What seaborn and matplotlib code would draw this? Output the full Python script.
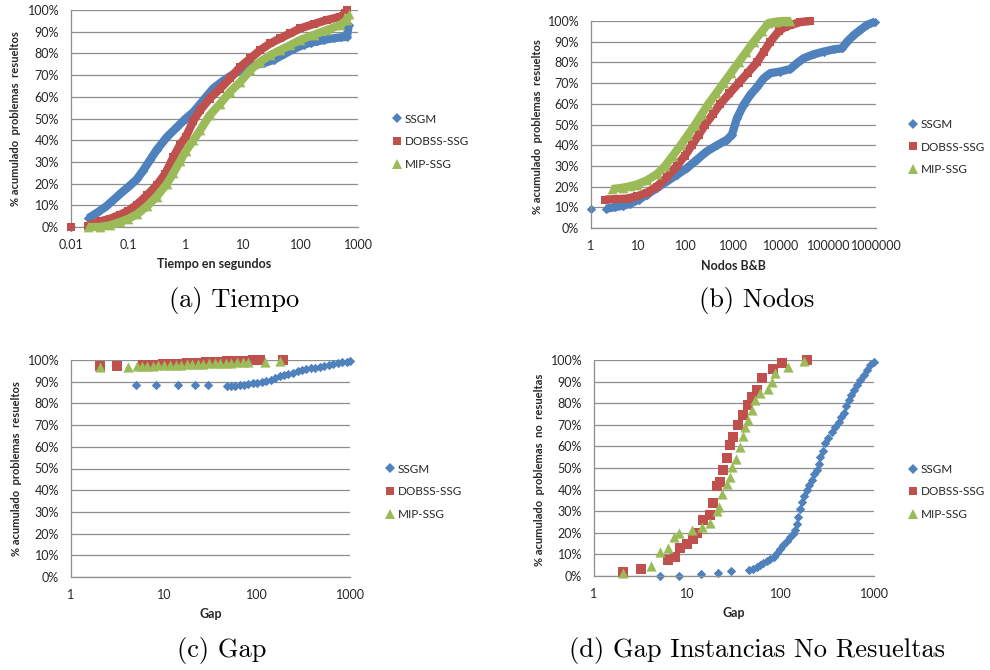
import numpy as np
import pandas as pd
import matplotlib
matplotlib.use("Agg")
import matplotlib.pyplot as plt
import seaborn as sns
from matplotlib.lines import Line2D
from matplotlib.ticker import PercentFormatter, FixedLocator, NullLocator

sns.set_theme(style="white")
plt.rcParams['font.family'] = ['Lato', 'DejaVu Sans']

SERIES = ["SSGM", "DOBSS-SSG", "MIP-SSG"]
COLORS = {"SSGM": "#4F81BD", "DOBSS-SSG": "#C0504D", "MIP-SSG": "#9BBB59"}
MARKERS = {"SSGM": "D", "DOBSS-SSG": "s", "MIP-SSG": "^"}

# ---------------- (a) Tiempo ----------------
tiempo_ssgm_x = [0.01, 0.02, 0.03, 0.041, 0.055, 0.077, 0.1, 0.14, 0.18, 0.24, 0.31, 0.47, 0.70, 1.0, 1.36,
                 2.03, 3.04, 4.54, 6.8, 10.1, 15.1, 22.6, 33.8, 50.5, 75.5, 113, 150, 193, 260, 377, 500, 643, 687]
tiempo_ssgm_p = [0, 4, 7, 9.5, 12.5, 16, 18.5, 22, 26, 31, 35.5, 41.5, 46, 50, 53,
                 58.5, 64, 67.5, 70.5, 73, 74.5, 75.5, 77, 79.5, 82, 84, 85, 85.5, 86.3, 87, 87.4, 87.7, 93]
tiempo_dobss_x = [0.01, 0.02, 0.0245, 0.032, 0.048, 0.072, 0.1, 0.14, 0.21, 0.31, 0.44, 0.61, 0.8, 1.0, 1.36,
                  1.78, 2.6, 3.98, 5.9, 8.9, 13.3, 19.8, 29.6, 44, 66, 98, 168, 287, 490, 600, 640]
tiempo_dobss_p = [0, 0.5, 1.5, 2.6, 3.8, 5.7, 7.5, 10.3, 14.6, 19.2, 24.6, 32.3, 38, 41.5, 49,
                  53.8, 59.2, 63.8, 68.5, 73.8, 77.7, 81.5, 84.6, 86.9, 89.2, 91.5, 93.5, 95.4, 96.9, 98.5, 100]
tiempo_mip_x = [0.02, 0.032, 0.048, 0.072, 0.1, 0.14, 0.21, 0.31, 0.47, 0.61, 0.8, 1.0, 1.36, 1.78, 2.6,
                3.98, 5.9, 8.9, 13.3, 19.8, 29.6, 44, 66, 98, 168, 287, 490, 640, 687]
tiempo_mip_p = [0, 0, 0.8, 2.3, 3.8, 5.8, 9.5, 14, 20, 25, 30.5, 35, 40, 44.6, 51.5,
                56.9, 62.3, 66.9, 72.3, 76.2, 79.2, 81.5, 83.8, 86.2, 88.5, 90.8, 93.1, 95.4, 98]
tiempo_ticks = [0.01, 0.1, 1, 10, 100, 1000]
tiempo_labels = ["0.01", "0.1", "1", "10", "100", "1000"]

# ---------------- (b) Nodos ----------------
nodos_ssgm_x = [1, 2.07, 3.2, 4.8, 6.6, 10, 14.9, 24.2, 39.4, 64, 104, 169, 274, 446, 725,
                925, 1180, 1630, 2250, 3110, 4300, 5940, 9660, 15700, 21700, 29900, 48700, 79100,
                128000, 193000, 246000, 340000, 469000, 648000, 971000]
nodos_ssgm_p = [9.3, 9.3, 10.1, 10.8, 11.7, 13.7, 16.1, 19.3, 22.5, 25.7, 28.9, 33, 37, 39.9, 42.6,
                45, 53, 59.5, 64.3, 68, 72.3, 74.8, 75.6, 76.8, 79.6, 82, 83.9, 85.2,
                86.3, 86.8, 90, 93.2, 95.7, 98.1, 99.7]
nodos_dobss_x = [1.97, 3.48, 5.65, 9.2, 14.9, 24.2, 39.4, 64, 95, 133, 185, 254, 370, 526, 820, 1277,
                 2000, 3110, 4300, 5940, 8900, 12000, 15700, 25500, 41400]
nodos_dobss_p = [13.7, 14, 14.2, 15.3, 17, 20, 24.5, 30, 35, 40, 45, 50, 55, 60, 65, 70,
                 75, 80, 85, 90, 95, 97, 98, 99.5, 100]
nodos_mip_x = [2.73, 4.8, 6.6, 9.2, 14.9, 24.2, 36.3, 53, 77.6, 110, 156, 215, 297, 430, 617, 890, 1277,
               1850, 2660, 4000, 5450, 8000, 11000, 15700]
nodos_mip_p = [18.8, 19.5, 20.2, 21, 23, 26, 30, 35, 40, 45, 50, 55, 60, 65, 70, 75, 80,
               85, 90, 95, 99, 99.7, 100, 100]
nodos_ticks = [1, 10, 100, 1000, 10000, 100000, 1000000]
nodos_labels = ["1", "10", "100", "1000", "10000", "100000", "1000000"]

# ---------------- (c) Gap ----------------
gap_ssgm_x = [5.0, 8.2, 14.3, 21.6, 29.4, 47, 52, 58, 65, 72, 80, 90, 100, 112, 125, 140, 156, 175, 195,
              218, 245, 275, 305, 340, 380, 425, 475, 530, 590, 660, 740, 830, 920, 1009]
gap_ssgm_p = [88.3, 88.3, 88.3, 88.3, 88.3, 88, 88, 88.1, 88.5, 88.7, 88.9, 89.2, 89.5, 89.9, 90.3, 91, 91.9,
              92.6, 93.1, 93.6, 94.2, 94.8, 95.2, 95.7, 96.1, 96.5, 96.9, 97.3, 97.7, 98.1, 98.6, 99, 99.2, 99.4]
gap_dobss_x = [2.05, 3.1, 5.9, 6.6, 7.7, 8.7, 9.8, 11, 12.6, 14.5, 17.5, 20, 24.3, 28, 33.8, 40, 47,
               55, 65, 75, 90, 107, 191]
gap_dobss_p = [97.2, 97.2, 97.5, 97.6, 97.8, 97.9, 98, 98.1, 98.2, 98.3, 98.5, 98.6, 98.8, 98.9, 99.1,
               99.2, 99.4, 99.5, 99.7, 99.7, 99.8, 99.8, 100]
gap_mip_x = [2.05, 4.1, 5.1, 5.8, 6.6, 7.6, 8.7, 10, 11.6, 13.3, 15.3, 17.5, 20, 23, 26.5, 30.5, 35, 40,
             46, 53, 61, 70, 80, 122, 177]
gap_mip_p = [96.9, 97.0, 97.1, 97.2, 97.3, 97.4, 97.5, 97.6, 97.7, 97.8, 97.9, 98.0, 98.1, 98.2, 98.3,
             98.4, 98.5, 98.6, 98.7, 98.8, 98.9, 99.0, 99.1, 99.1, 99.6]
gap_ticks = [1, 10, 100, 1000]
gap_labels = ["1", "10", "100", "1000"]

# ---------------- (d) Gap Instancias No Resueltas ----------------
gapnr_ssgm_x = [5.07, 8.12, 14.1, 21.3, 29.1, 46.2, 50, 55.4, 60, 65.4, 71, 77.1, 84, 90.9, 99,
                107, 116, 126, 135, 143, 149, 155, 162, 169, 180, 191, 203, 216, 230, 244,
                255, 265, 282, 300, 325, 354, 385, 418, 445, 473, 505, 535, 570, 605, 660,
                714, 775, 842, 915, 993]
gapnr_ssgm_p = [0, 0, 0.8, 1.2, 2.5, 2.8, 3.3, 4, 5, 5.9, 6.8, 7.7, 9, 10.5, 12.5,
                14.4, 16.3, 18.2, 19.5, 21.3, 24, 27.5, 31, 34.4, 37, 39.8, 42, 44.4, 47, 49.1,
                52, 55.2, 58, 61.4, 64, 66.8, 69, 71.5, 73.5, 75.3, 78.5, 81.5, 84, 86.1, 88.5,
                90.7, 93, 95.4, 97.5, 99.2]
gapnr_dobss_x = [2.05, 3.15, 6.24, 7.35, 8.32, 9.82, 11.6, 12.6, 14.8, 17.5, 18.7, 20.6, 22.4, 24.3,
                 26.4, 28.7, 31.1, 35.2, 39.8, 45.1, 49, 55.4, 62.7, 83.7, 103, 191]
gapnr_dobss_p = [1.7, 3.2, 7.4, 9, 12.8, 14.7, 17, 19.8, 25.9, 28.2, 33.6, 41.7, 43.7, 49.1,
                 54.5, 60.6, 64.5, 69.9, 74.5, 79.2, 83, 86.1, 91.5, 95.7, 98.5, 100]
gapnr_mip_x = [2.05, 4.06, 5.07, 6.24, 7.17, 8.19, 11.1, 14.2, 17.5, 20.6, 22, 23.3, 26.4, 28.7,
               29.9, 33.2, 36.7, 39.8, 41.5, 45.1, 49, 53.2, 60.2, 73.9, 80.3, 87.2, 121, 176]
gapnr_mip_p = [1.2, 4.6, 11.3, 12.8, 17.9, 19.8, 21.3, 22.8, 24.7, 30.1, 32.1, 37.8, 42.6, 46,
               50.6, 54, 59.9, 64.8, 69.1, 72.2, 76.9, 81.5, 84.6, 86.4, 90, 94.1, 96.6, 99.7]

W, H = 990, 670
fig = plt.figure(figsize=(W / 100, H / 100), dpi=100)


def add_axes_px(l, t, r, b):
    return fig.add_axes([l / W, 1 - b / H, (r - l) / W, (b - t) / H])


GRID = "#8e8e8e"
TXT = "#262626"
MS = {"SSGM": 4.8, "DOBSS-SSG": 6.2, "MIP-SSG": 7.0}


def style_axes(ax, xlim, ticks, labels, xlabel, ylabel, ylab_pos, xlab_y):
    ax.set_xscale("log")
    ax.set_xlim(*xlim)
    ax.set_ylim(0, 100)
    ax.xaxis.set_major_locator(FixedLocator(ticks))
    ax.set_xticks(ticks, labels)
    ax.xaxis.set_minor_locator(NullLocator())
    ax.set_yticks(np.arange(0, 101, 10))
    ax.yaxis.set_major_formatter(PercentFormatter(100, decimals=0))
    ax.yaxis.grid(True, color=GRID, lw=0.9)
    ax.xaxis.grid(False)
    ax.set_axisbelow(True)
    for s in ["top", "right"]:
        ax.spines[s].set_visible(False)
    for s in ["left", "bottom"]:
        ax.spines[s].set_color(GRID)
        ax.spines[s].set_linewidth(0.9)
    ax.tick_params(axis="both", which="major", direction="out", length=3.5, width=0.9,
                   color=GRID, labelsize=9, labelcolor=TXT)
    ax.tick_params(axis="y", pad=5)
    ax.tick_params(axis="x", pad=5)
    ax.set_xlabel(xlabel, fontsize=9, fontweight="bold", color=TXT)
    ax.set_ylabel(ylabel, fontsize=8, fontweight="bold", color=TXT)
    ax.xaxis.set_label_coords(0.5, xlab_y)
    ax.xaxis.label.set_verticalalignment("center")
    ax.yaxis.set_label_coords(*ylab_pos)
    ax.yaxis.label.set_verticalalignment("center")
    ax.set_facecolor("white")


def add_legend(ax, anchor):
    handles = [Line2D([0], [0], marker=MARKERS[s], color=COLORS[s], linestyle="None",
                      markersize=MS[s], markeredgewidth=0) for s in SERIES]
    leg = ax.legend(handles, SERIES, loc="center left", bbox_to_anchor=anchor, frameon=False,
                    handlelength=0.7, handletextpad=0.3, borderpad=0, borderaxespad=0,
                    labelspacing=1.0, fontsize=8.5)
    for t in leg.get_texts():
        t.set_color(TXT)


def band_series(ax, xs, ys, name, max_gap=0.27):
    idx = SERIES.index(name)
    df = pd.DataFrame({"x": xs, "p": ys})
    lx = np.log10(df["x"].to_numpy())
    df["seg"] = np.concatenate([[0], np.cumsum(np.diff(lx) > max_gap)])
    for _, d in df.groupby("seg"):
        if len(d) > 1:
            sns.lineplot(data=d, x="x", y="p", ax=ax, color=COLORS[name], linewidth=6.0,
                         estimator=None, sort=False, legend=False, clip_on=False,
                         solid_capstyle="butt", zorder=2 + idx)
    sns.scatterplot(data=df, x="x", y="p", ax=ax, color=COLORS[name], marker=MARKERS[name],
                    s=MS[name] ** 2, linewidth=0, legend=False, clip_on=False, zorder=2.5 + idx)


def scatter_series(ax, xs, ys, name, scale=1.0):
    idx = SERIES.index(name)
    df = pd.DataFrame({"x": xs, "p": ys})
    sns.scatterplot(data=df, x="x", y="p", ax=ax, color=COLORS[name], marker=MARKERS[name],
                    s=(MS[name] * scale) ** 2, linewidth=0, legend=False, clip_on=False,
                    zorder=2.5 + idx)


YLAB = "% acumulado  problemas  resueltos"

# (a)
axA = add_axes_px(71, 10, 358, 227)
band_series(axA, tiempo_ssgm_x, tiempo_ssgm_p, "SSGM")
band_series(axA, tiempo_dobss_x, tiempo_dobss_p, "DOBSS-SSG")
band_series(axA, tiempo_mip_x, tiempo_mip_p, "MIP-SSG")
style_axes(axA, (0.01, 1000), tiempo_ticks, tiempo_labels, "Tiempo en segundos", YLAB,
           (-0.195, 0.5), -0.17)
add_legend(axA, (1.122, 0.392))

# (b)
axB = add_axes_px(591, 21, 876, 228)
band_series(axB, nodos_ssgm_x, nodos_ssgm_p, "SSGM")
band_series(axB, nodos_dobss_x, nodos_dobss_p, "DOBSS-SSG")
band_series(axB, nodos_mip_x, nodos_mip_p, "MIP-SSG")
style_axes(axB, (1, 1e6), nodos_ticks, nodos_labels, "Nodos B&B", YLAB,
           (-0.186, 0.49), -0.185)
add_legend(axB, (1.115, 0.391))

# (c)
axC = add_axes_px(71, 360, 350, 577)
scatter_series(axC, gap_ssgm_x, gap_ssgm_p, "SSGM")
scatter_series(axC, gap_dobss_x, gap_dobss_p, "DOBSS-SSG", 1.1)
scatter_series(axC, gap_mip_x, gap_mip_p, "MIP-SSG", 1.05)
style_axes(axC, (1, 1000), gap_ticks, gap_labels, "Gap", YLAB, (-0.194, 0.5), -0.17)
add_legend(axC, (1.129, 0.392))

# (d)
axD = add_axes_px(594, 360, 874, 576)
scatter_series(axD, gapnr_ssgm_x, gapnr_ssgm_p, "SSGM")
scatter_series(axD, gapnr_dobss_x, gapnr_dobss_p, "DOBSS-SSG", 1.1)
scatter_series(axD, gapnr_mip_x, gapnr_mip_p, "MIP-SSG", 1.05)
style_axes(axD, (1, 1000), gap_ticks, gap_labels, "Gap", "% acumulado  problemas  no  resueltas",
           (-0.196, 0.49), -0.17)
add_legend(axD, (1.125, 0.389))

# captions
captions = ["(a) Tiempo", "(b) Nodos", "(c) Gap", "(d) Gap Instancias No Resueltas"]
cap_pos = [(234, 300), (757, 300), (222, 650), (757, 650)]
for txt, (cx, cy) in zip(captions, cap_pos):
    fig.text(cx / W, 1 - cy / H, txt, ha="center", va="center", fontsize=19,
             family=["cmr10", "DejaVu Serif"], color="black")

fig.savefig("out.png", dpi=100, facecolor="white")
